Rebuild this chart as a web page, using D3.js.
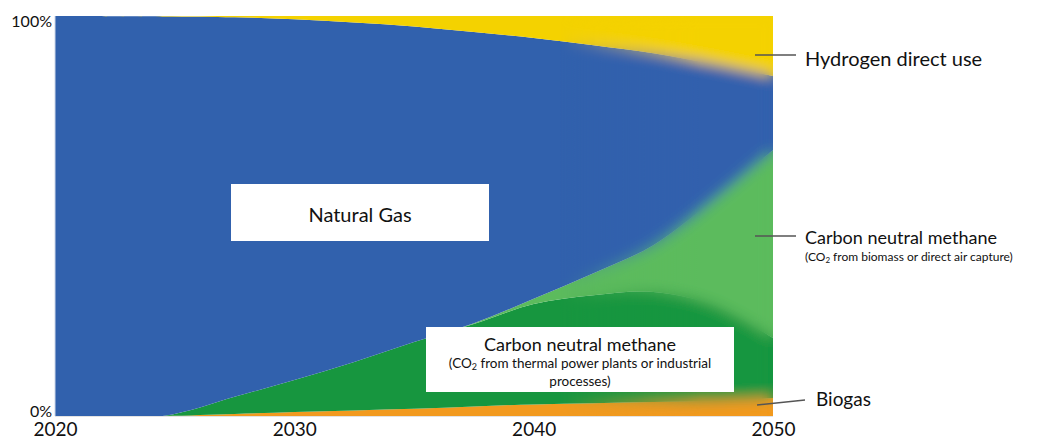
<!DOCTYPE html>
<html>
  <head>
    <meta charset="utf-8">
    <script src="https://d3js.org/d3.v7.min.js"></script>
    <title>Gas supply mix 2020-2050</title>
    <style>
      body { margin: 0px; background: #fff; }
      text { font-family: Lato, "Open Sans", sans-serif; fill: #111; }
    </style>
  </head>
  <body>
    <svg width="1042" height="439"></svg>
    <script>
      // shares of gas supply, %
      const years      = [2020, 2024.5, 2027.5, 2030, 2032.5, 2035, 2037.5, 2040, 2042.5, 2045, 2047.5, 2050];
      const biogas     = [0, 0, 0.5, 1.0, 1.4, 1.8, 2.4, 2.9, 3.2, 3.5, 3.8, 4.5];
      const cnmThermal = [0, 0, 4.3, 8.0, 12.1, 16.7, 20.6, 25.1, 27.0, 27.5, 23.9, 15.0];
      const cnmBiomass = [0, 0, 0, 0, 0, 0, 0.2, 1.3, 5.5, 11.7, 26.3, 47.0];
      const naturalGas = [100, 99.9, 94.9, 90.2, 84.9, 78.9, 72.8, 65.2, 57.0, 48.0, 34.0, 18.5];
      const hydrogen   = [0, 0.1, 0.3, 0.8, 1.6, 2.6, 4.0, 5.5, 7.3, 9.3, 12.0, 15.0];

      const xTicks = [2020, 2030, 2040, 2050];
      const yTicks = [0, 100];

      const keys = ['biogas', 'cnmThermal', 'cnmBiomass', 'naturalGas', 'hydrogen'];
      const colors = {
        biogas: '#f29a1f',
        cnmThermal: '#17963f',
        cnmBiomass: '#5cbb5d',
        naturalGas: '#3161ad',
        hydrogen: '#f4d200'
      };

      const data = years.map((y, i) => ({
        year: y,
        biogas: biogas[i],
        cnmThermal: cnmThermal[i],
        cnmBiomass: cnmBiomass[i],
        naturalGas: naturalGas[i],
        hydrogen: hydrogen[i]
      }));

      const svg = d3.select('svg');
      const m = { left: 55, right: 773, top: 16, bottom: 416 };

      const xScale = d3.scaleLinear().domain([2020, 2050]).range([m.left, m.right]);
      const yScale = d3.scaleLinear().domain([0, 100]).range([m.bottom, m.top]);

      const series = d3.stack().keys(keys)(data);

      const area = d3.area()
        .curve(d3.curveCatmullRom.alpha(0.5))
        .x(d => xScale(d.data.year))
        .y0(d => yScale(d[0]))
        .y1(d => yScale(d[1]));

      const defs = svg.append('defs');
      defs.append('clipPath').attr('id', 'plot')
        .append('rect')
          .attr('x', m.left).attr('y', m.top)
          .attr('width', m.right - m.left).attr('height', m.bottom - m.top);

      defs.append('filter').attr('id', 'soft')
          .attr('x', '-10%').attr('y', '-10%').attr('width', '120%').attr('height', '120%')
        .append('feGaussianBlur').attr('stdDeviation', 7);

      const grad = defs.append('linearGradient').attr('id', 'fade')
        .attr('gradientUnits', 'userSpaceOnUse')
        .attr('x1', 560).attr('x2', 700).attr('y1', 0).attr('y2', 0);
      grad.append('stop').attr('offset', 0).attr('stop-color', '#000');
      grad.append('stop').attr('offset', 1).attr('stop-color', '#fff');

      defs.append('mask').attr('id', 'fadeMask')
        .attr('maskUnits', 'userSpaceOnUse')
        .attr('x', 0).attr('y', 0).attr('width', 1042).attr('height', 439)
        .append('rect')
          .attr('width', 1042).attr('height', 439)
          .attr('fill', 'url(#fade)');

      const plot = svg.append('g').attr('clip-path', 'url(#plot)');

      // crisp layers
      plot.append('g').selectAll('path').data(series)
        .enter().append('path')
          .attr('d', area)
          .attr('fill', d => colors[d.key]);

      // blurred copy, faded in towards 2050
      plot.append('g').attr('mask', 'url(#fadeMask)')
        .append('g').attr('filter', 'url(#soft)')
        .selectAll('path').data(series)
        .enter().append('path')
          .attr('d', area)
          .attr('fill', d => colors[d.key]);

      // faint frame lines
      svg.append('line')
        .attr('x1', m.left).attr('x2', m.left).attr('y1', m.top).attr('y2', m.bottom)
        .attr('stroke', '#cdd7e8').attr('stroke-width', 1);
      svg.append('line')
        .attr('x1', m.left).attr('x2', m.right).attr('y1', m.bottom + 0.5).attr('y2', m.bottom + 0.5)
        .attr('stroke', '#e3e3e3').attr('stroke-width', 1);

      // axes
      const xAxisG = svg.append('g').attr('transform', `translate(0, ${m.bottom})`)
        .call(d3.axisBottom(xScale).tickValues(xTicks).tickSize(0).tickPadding(7).tickFormat(d3.format('d')));
      xAxisG.select('.domain').remove();
      xAxisG.selectAll('text')
        .attr('font-family', 'Lato, sans-serif')
        .attr('font-size', 19).attr('fill', '#444');

      const yAxisG = svg.append('g').attr('transform', `translate(${m.left - 3}, 0)`)
        .call(d3.axisLeft(yScale).tickValues(yTicks).tickSize(0).tickPadding(0).tickFormat(d => d + '%'));
      yAxisG.select('.domain').remove();
      yAxisG.selectAll('text')
        .attr('font-family', 'Lato, sans-serif')
        .attr('font-size', 16).attr('fill', '#555')
        .attr('dy', d => d === 100 ? '0.68em' : '0em');

      // label boxes inside the chart
      svg.append('rect')
        .attr('x', 231).attr('y', 184).attr('width', 258).attr('height', 57)
        .attr('fill', '#fff');
      svg.append('text')
        .attr('x', 360).attr('y', 222)
        .attr('text-anchor', 'middle').attr('font-size', 20)
        .text('Natural Gas');

      svg.append('rect')
        .attr('x', 426).attr('y', 327).attr('width', 308).attr('height', 65)
        .attr('fill', '#fff');
      svg.append('text')
        .attr('x', 580).attr('y', 351)
        .attr('text-anchor', 'middle').attr('font-size', 18)
        .text('Carbon neutral methane');
      const sub = svg.append('text')
        .attr('x', 580).attr('y', 368)
        .attr('text-anchor', 'middle').attr('font-size', 13.5);
      sub.append('tspan').text('(CO');
      sub.append('tspan').attr('font-size', 9).attr('dy', 2).text('2');
      sub.append('tspan').attr('dy', -2).text(' from thermal power plants or industrial');
      svg.append('text')
        .attr('x', 580).attr('y', 386)
        .attr('text-anchor', 'middle').attr('font-size', 13.5)
        .text('processes)');

      // right-hand labels with leader lines
      const leaders = [
        { x1: 755, y1: 55, x2: 796, y2: 55 },
        { x1: 755, y1: 236, x2: 796, y2: 236 },
        { x1: 757, y1: 405, x2: 805, y2: 400 }
      ];
      svg.selectAll('.leader').data(leaders)
        .enter().append('line')
          .attr('class', 'leader')
          .attr('x1', d => d.x1).attr('y1', d => d.y1)
          .attr('x2', d => d.x2).attr('y2', d => d.y2)
          .attr('stroke', '#555').attr('stroke-width', 1.5);

      svg.append('text').attr('x', 805).attr('y', 66).attr('font-size', 20)
        .text('Hydrogen direct use');
      svg.append('text').attr('x', 805).attr('y', 244).attr('font-size', 18)
        .text('Carbon neutral methane');
      const sub2 = svg.append('text').attr('x', 805).attr('y', 261).attr('font-size', 12);
      sub2.append('tspan').text('(CO');
      sub2.append('tspan').attr('font-size', 8).attr('dy', 2).text('2');
      sub2.append('tspan').attr('dy', -2).text(' from biomass or direct air capture)');
      svg.append('text').attr('x', 816).attr('y', 406).attr('font-size', 19)
        .text('Biogas');
    </script>
  </body>
</html>
